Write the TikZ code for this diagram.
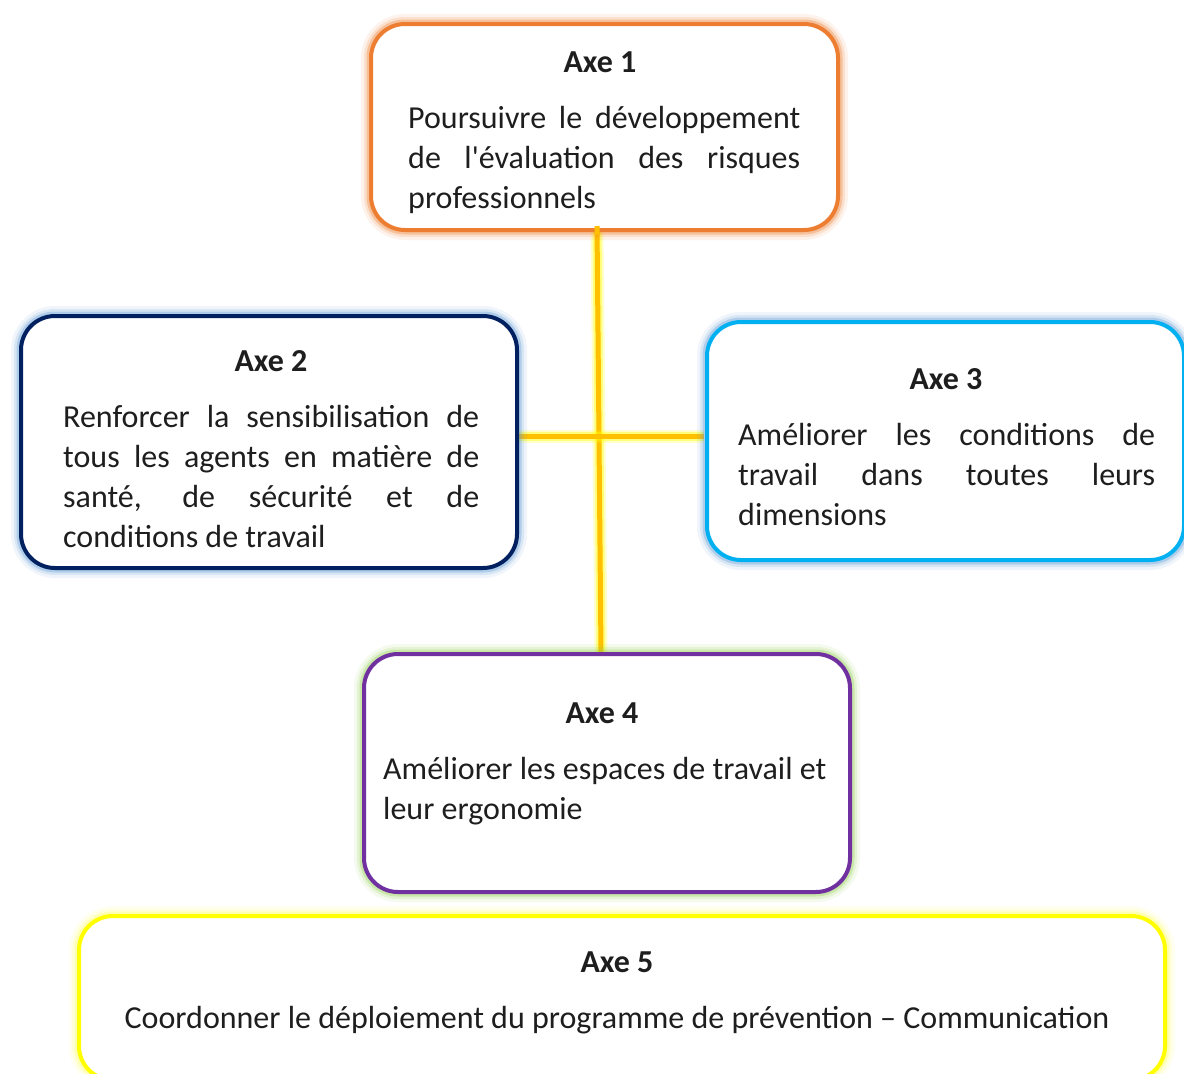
\documentclass[tikz,border=0pt]{standalone}
\usepackage{fontspec}
\setmainfont{Carlito}[Ligatures=TeXOff]
\usetikzlibrary{calc}
\definecolor{axeorange}{HTML}{ED7D31}
\definecolor{axenavy}{HTML}{002060}
\definecolor{axesky}{HTML}{00B0F0}
\definecolor{axepurple}{HTML}{7030A0}
\definecolor{axeyellow}{HTML}{FFFF00}
\definecolor{linkgold}{HTML}{FFC000}
\definecolor{glowblue}{HTML}{5B9BD5}
\definecolor{glowgreen}{HTML}{92D050}
\definecolor{glowyellow}{HTML}{FFFF66}
\definecolor{txt}{HTML}{1E1E1E}
\newcommand{\jl}[2]{\makebox[#1][s]{#2}}
\begin{document}
\begin{tikzpicture}[x=1pt,y=-1pt,
  axebox/.style 2 args={draw=#1, line width=4pt, rounded corners=34pt, fill=white,
    inner sep=0pt, anchor=north west,
    preaction={draw=#2, line width=20pt, draw opacity=0.09, rounded corners=34pt},
    preaction={draw=#2, line width=14pt, draw opacity=0.16, rounded corners=34pt},
    preaction={draw=#2, line width=9pt, draw opacity=0.32, rounded corners=34pt}},
  title/.style={font=\fontsize{32}{40}\selectfont\bfseries, text=txt, inner sep=0pt, anchor=base},
  body/.style={font=\fontsize{32}{40}\selectfont, text=txt, inner sep=0pt, anchor=base west, align=left},
  link/.style={draw=linkgold, line width=5pt,
    preaction={draw=axeyellow, line width=13pt, draw opacity=0.2},
    preaction={draw=axeyellow, line width=9pt, draw opacity=0.4}}
]
\useasboundingbox (0,0) rectangle (1184,1074);
\fill[white] (0,0) rectangle (1184,1074);

% links between the axes (drawn first, boxes sit on top)
\coordinate (v1) at (597,226);
\coordinate (v2) at (601,653);
\coordinate (h1) at (519,436);
\coordinate (h2) at (704,436);
\draw[link] (v1) -- (v2);
\draw[link] (h1) -- (h2);

% the five axes
\node[axebox={axeorange}{axeorange}, minimum width=467pt, minimum height=206pt] (b1) at (369,22) {};
\node[axebox={axenavy}{glowblue}, minimum width=496pt, minimum height=252pt] (b2) at (19,314) {};
\node[axebox={axesky}{glowblue}, minimum width=477pt, minimum height=238pt] (b3) at (705,320) {};
\node[axebox={axepurple}{glowgreen}, minimum width=486pt, minimum height=238pt] (b4) at (362,652) {};
\node[axebox={axeyellow}{glowyellow}, minimum width=1086pt, minimum height=164pt] (b5) at (77,914) {};

% the vertical link ends on top of the box borders
\draw[draw=linkgold, line width=5pt] (v1) -- ($(v1)!0.02!(v2)$);

% titles
\node[title] (t1) at (600,72) {Axe 1};
\node[title] (t2) at (271,371) {Axe 2};
\node[title] (t3) at (946,389) {Axe 3};
\node[title] (t4) at (602,723) {Axe 4};
\node[title] (t5) at (617,972) {Axe 5};

% texts (anchored on the baseline of their last line)
\node[body] (x1) at (408,208) {\jl{392pt}{Poursuivre le développement}\\
  \jl{392pt}{de l'évaluation des risques}\\ professionnels};
\node[body] (x2) at (63,547) {\jl{416pt}{Renforcer la sensibilisation de}\\
  \jl{416pt}{tous les agents en matière de}\\
  \jl{416pt}{santé, de sécurité et de}\\ conditions de travail};
\node[body] (x3) at (738,525) {\jl{417pt}{Améliorer les conditions de}\\
  \jl{417pt}{travail dans toutes leurs}\\ dimensions};
\node[body] (x4) at (383,819) {Améliorer les espaces de travail et\\ leur ergonomie};
\node[body, anchor=base] (x5) at (617,1028) {Coordonner le déploiement du programme de prévention – Communication};
\end{tikzpicture}
\end{document}
